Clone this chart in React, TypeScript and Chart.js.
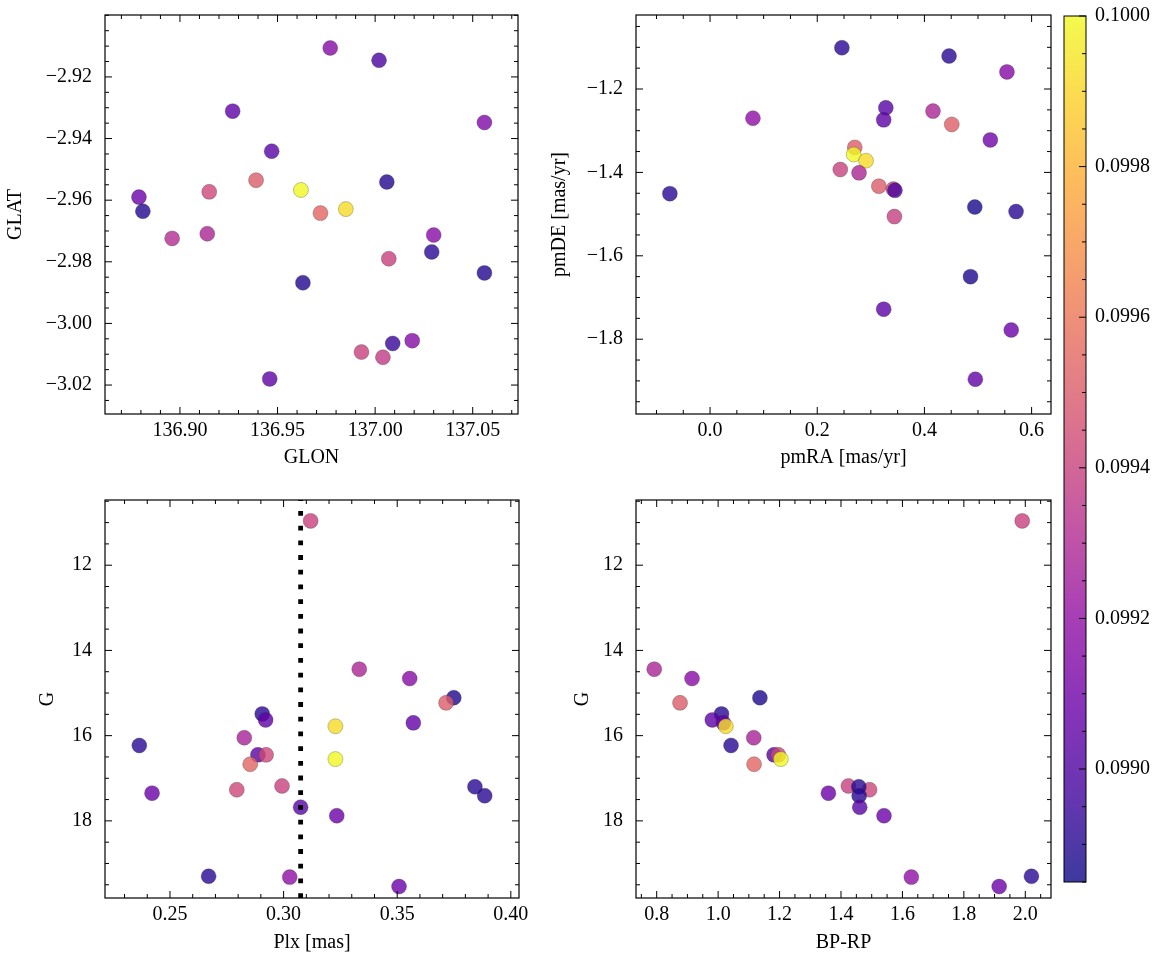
import React, { useEffect, useRef } from "react";
import { Chart, registerables } from "chart.js";

Chart.register(...registerables);

const FONT_FAMILY = '"Liberation Serif", "Times New Roman", serif';
const FONT_SIZE = 20;
Chart.defaults.color = "#000";
Chart.defaults.font.family = FONT_FAMILY;

// ---------------- data ----------------
// Panel 1: sky positions
const glon = [136.977, 137.002, 136.927, 137.056, 136.947, 136.939, 137.006, 136.915, 136.962, 136.879, 136.881, 136.972, 136.985, 136.896, 136.914, 137.03, 137.029, 137.007, 137.056, 136.963, 137.019, 137.009, 136.993, 137.004, 136.946];
const glat = [-2.9106, -2.9146, -2.9311, -2.9348, -2.9441, -2.9535, -2.9541, -2.9573, -2.9567, -2.959, -2.9636, -2.9642, -2.9629, -2.9724, -2.9709, -2.9713, -2.9768, -2.979, -2.9836, -2.9868, -3.0056, -3.0065, -3.0093, -3.011, -3.018];
const probSky = [0.099161, 0.098988, 0.099046, 0.099138, 0.099023, 0.099506, 0.098896, 0.099425, 0.1, 0.09908, 0.098896, 0.09954, 0.09992, 0.09931, 0.099287, 0.099172, 0.098908, 0.099402, 0.098896, 0.098896, 0.099161, 0.098942, 0.099402, 0.099368, 0.099046];

// Panel 2: proper motions
const pmra = [0.246, 0.446, 0.554, 0.328, 0.08, 0.324, 0.416, 0.451, 0.523, 0.27, 0.268, 0.291, 0.243, 0.278, 0.315, 0.342, 0.345, -0.075, 0.494, 0.571, 0.344, 0.486, 0.324, 0.562, 0.495];
const pmde = [-1.101, -1.121, -1.159, -1.245, -1.27, -1.274, -1.253, -1.285, -1.322, -1.34, -1.357, -1.372, -1.393, -1.401, -1.433, -1.44, -1.443, -1.451, -1.483, -1.494, -1.506, -1.65, -1.728, -1.778, -1.896];
const probPm = [0.098908, 0.098908, 0.099161, 0.099023, 0.099195, 0.099046, 0.099287, 0.099517, 0.099103, 0.099506, 0.1, 0.09992, 0.099402, 0.099287, 0.099506, 0.099425, 0.098988, 0.098908, 0.098873, 0.098908, 0.099391, 0.098885, 0.099046, 0.09908, 0.099057];

// Panels 3 & 4: photometry / parallax (same stars)
const gmag = [10.96, 14.44, 14.66, 15.11, 15.23, 15.49, 15.63, 15.7, 15.78, 16.23, 16.05, 16.45, 16.45, 16.67, 16.55, 17.35, 17.27, 17.18, 17.2, 17.41, 17.68, 17.88, 19.3, 19.32, 19.54];
const plx = [0.3119, 0.3333, 0.3555, 0.3749, 0.3715, 0.2906, 0.2921, 0.3571, 0.3228, 0.2365, 0.2827, 0.2887, 0.2923, 0.2853, 0.3228, 0.2421, 0.2794, 0.2993, 0.3842, 0.3885, 0.3075, 0.3234, 0.267, 0.3027, 0.3508];
const bprp = [1.99, 0.792, 0.915, 1.136, 0.876, 1.011, 0.981, 1.017, 1.025, 1.042, 1.116, 1.182, 1.196, 1.117, 1.204, 1.359, 1.493, 1.424, 1.458, 1.459, 1.461, 1.54, 2.02, 1.629, 1.915];
const probCmd = [0.099402, 0.099287, 0.099172, 0.098885, 0.099506, 0.098908, 0.099046, 0.099057, 0.09992, 0.098908, 0.099276, 0.099023, 0.099425, 0.09954, 0.1, 0.09908, 0.099425, 0.099402, 0.098908, 0.098908, 0.099023, 0.09908, 0.098908, 0.099195, 0.09908];

const plxLine = 0.3075;

// tick labels
const glonTicks = [136.9, 136.95, 137.0, 137.05];
const glatTicks = [-3.02, -3.0, -2.98, -2.96, -2.94, -2.92];
const pmraTicks = [0.0, 0.2, 0.4, 0.6];
const pmdeTicks = [-1.8, -1.6, -1.4, -1.2];
const plxTicks = [0.25, 0.3, 0.35, 0.4];
const gTicks = [12, 14, 16, 18];
const bprpTicks = [0.8, 1.0, 1.2, 1.4, 1.6, 1.8, 2.0];
const cbarTicks = [0.099, 0.0992, 0.0994, 0.0996, 0.0998, 0.1];

const VMIN = 0.09885;
const VMAX = 0.1;

// ---------------- helpers ----------------
const PLASMA = [
  [13, 8, 135], [65, 4, 157], [106, 0, 168], [143, 13, 164], [177, 42, 144],
  [204, 71, 120], [225, 100, 98], [242, 132, 75], [252, 166, 54], [252, 206, 37], [240, 249, 33],
];
function plasmaRGB(t: number) {
  const c = Math.max(0, Math.min(1, t));
  const s = c * 10;
  const i = Math.min(9, Math.floor(s));
  const f = s - i;
  const a = PLASMA[i], b = PLASMA[i + 1];
  return a.map((v, k) => Math.round(v + (b[k] - v) * f));
}
function colorOf(v: number, alpha = 0.8) {
  const [r, g, b] = plasmaRGB((v - VMIN) / (VMAX - VMIN));
  return `rgba(${r},${g},${b},${alpha})`;
}
function fmt(v: number, d: number) {
  const s = Math.abs(v) < 1e-12 ? (0).toFixed(d) : v.toFixed(d);
  return s.replace("-", "\u2212");
}
function minorVals(min: number, max: number, step: number) {
  const out: number[] = [];
  const k0 = Math.ceil(min / step - 1e-6);
  for (let k = k0; k * step <= max + step * 1e-6; k++) out.push(k * step);
  return out;
}
const font = () => ({ family: FONT_FAMILY, size: FONT_SIZE });

type Spec = {
  left: number; top: number; w: number; h: number;
  padTop: number; padRight: number; yW: number; xH: number;
  xs: number[]; ys: number[]; cs: number[];
  xMin: number; xMax: number; yMin: number; yMax: number; reverse?: boolean;
  xTicks: number[]; yTicks: number[]; xDec: number; yDec: number;
  xMinor: number; yMinor: number;
  xTitle: string; yTitle: string; yTitlePad: number;
  vline?: number;
};

function framePlugin(s: Spec) {
  return {
    id: "frameTicks",
    afterDraw(chart: any) {
      const { ctx, chartArea } = chart;
      const { left, right, top, bottom } = chartArea;
      const xsc = chart.scales.x, ysc = chart.scales.y;
      ctx.save();
      ctx.strokeStyle = "#000";
      ctx.lineWidth = 1;
      const seg = (x1: number, y1: number, x2: number, y2: number) => {
        ctx.beginPath(); ctx.moveTo(x1, y1); ctx.lineTo(x2, y2); ctx.stroke();
      };
      const xMarks = (vals: number[], len: number) => {
        for (const v of vals) {
          const p = xsc.getPixelForValue(v);
          if (p < left - 0.5 || p > right + 0.5) continue;
          seg(p, bottom, p, bottom - len); seg(p, top, p, top + len);
        }
      };
      const yMarks = (vals: number[], len: number) => {
        for (const v of vals) {
          const p = ysc.getPixelForValue(v);
          if (p < top - 0.5 || p > bottom + 0.5) continue;
          seg(left, p, left + len, p); seg(right, p, right - len, p);
        }
      };
      const notMajor = (arr: number[], majors: number[], step: number) =>
        arr.filter((v) => !majors.some((m) => Math.abs(m - v) < step * 1e-3));
      xMarks(s.xTicks, 7);
      yMarks(s.yTicks, 7);
      xMarks(notMajor(minorVals(s.xMin, s.xMax, s.xMinor), s.xTicks, s.xMinor), 4);
      yMarks(notMajor(minorVals(s.yMin, s.yMax, s.yMinor), s.yTicks, s.yMinor), 4);
      ctx.lineWidth = 1.2;
      ctx.strokeRect(left, top, right - left, bottom - top);
      ctx.restore();
    },
  };
}

function zeroPad(sc: any) {
  sc.paddingTop = 0; sc.paddingBottom = 0; sc.paddingLeft = 0; sc.paddingRight = 0;
}

function buildConfig(s: Spec): any {
  const datasets: any[] = [];
  if (s.vline !== undefined) {
    datasets.push({
      type: "line",
      data: [{ x: s.vline, y: s.yMax }, { x: s.vline, y: s.yMin }],
      borderColor: "#000",
      borderWidth: 4.8,
      borderDash: [4.8, 9.9],
      borderCapStyle: "butt",
      pointRadius: 0,
      fill: false,
      order: 0,
    });
  }
  datasets.push({
    type: "scatter",
    data: s.xs.map((x, i) => ({ x, y: s.ys[i] })),
    backgroundColor: s.cs.map((v) => colorOf(v)),
    borderColor: "rgba(40,40,40,0.55)",
    borderWidth: 0.5,
    pointRadius: 7.5,
    pointHoverRadius: 7.5,
    order: 1,
  });
  return {
    type: "scatter",
    data: { datasets },
    options: {
      responsive: false,
      animation: false,
      events: [],
      layout: { padding: { left: 0, top: s.padTop, right: s.padRight, bottom: 0 } },
      plugins: { legend: { display: false }, tooltip: { enabled: false } },
      scales: {
        x: {
          type: "linear",
          min: s.xMin,
          max: s.xMax,
          afterBuildTicks: (sc: any) => { sc.ticks = s.xTicks.map((v) => ({ value: v })); },
          afterFit: (sc: any) => { sc.height = s.xH; zeroPad(sc); },
          grid: { display: false, drawTicks: false },
          border: { display: false },
          ticks: {
            autoSkip: false, maxRotation: 0, minRotation: 0, padding: 5, color: "#000", font: font(),
            callback: (v: any) => fmt(Number(v), s.xDec),
          },
          title: { display: true, text: s.xTitle, color: "#000", font: font(), padding: { top: 0, bottom: 0 } },
        },
        y: {
          type: "linear",
          min: s.yMin,
          max: s.yMax,
          reverse: !!s.reverse,
          afterBuildTicks: (sc: any) => { sc.ticks = s.yTicks.map((v) => ({ value: v })); },
          afterFit: (sc: any) => { sc.width = s.yW; zeroPad(sc); },
          grid: { display: false, drawTicks: false },
          border: { display: false },
          ticks: {
            autoSkip: false, padding: 13, color: "#000", font: font(),
            callback: (v: any) => fmt(Number(v), s.yDec),
          },
          title: { display: true, text: s.yTitle, color: "#000", font: font(), padding: { top: s.yTitlePad, bottom: 0 } },
        },
      },
    },
    plugins: [framePlugin(s)],
  };
}

const G_MIN = 10.47;
const G_MAX = 19.81;

const specs: Spec[] = [
  {
    left: 0, top: 0, w: 540, h: 470, padTop: 15, padRight: 22, yW: 105, xH: 56,
    xs: glon, ys: glat, cs: probSky,
    xMin: 136.8616, xMax: 137.0732, yMin: -3.0294, yMax: -2.8999,
    xTicks: glonTicks, yTicks: glatTicks, xDec: 2, yDec: 2, xMinor: 0.01, yMinor: 0.005,
    xTitle: "GLON", yTitle: "GLAT", yTitlePad: 4,
  },
  {
    left: 530, top: 0, w: 530, h: 470, padTop: 15, padRight: 9, yW: 106, xH: 56,
    xs: pmra, ys: pmde, cs: probPm,
    xMin: -0.1382, xMax: 0.6362, yMin: -1.9794, yMax: -1.0225,
    xTicks: pmraTicks, yTicks: pmdeTicks, xDec: 1, yDec: 1, xMinor: 0.05, yMinor: 0.05,
    xTitle: "pmRA [mas/yr]", yTitle: "pmDE [mas/yr]", yTitlePad: 18,
  },
  {
    left: 0, top: 485, w: 540, h: 470, padTop: 15, padRight: 21, yW: 105, xH: 57,
    xs: plx, ys: gmag, cs: probCmd,
    xMin: 0.2214, xMax: 0.4036, yMin: G_MIN, yMax: G_MAX, reverse: true,
    xTicks: plxTicks, yTicks: gTicks, xDec: 2, yDec: 0, xMinor: 0.01, yMinor: 0.5,
    xTitle: "Plx [mas]", yTitle: "G", yTitlePad: 36, vline: plxLine,
  },
  {
    left: 530, top: 485, w: 530, h: 470, padTop: 15, padRight: 9, yW: 106, xH: 57,
    xs: bprp, ys: gmag, cs: probCmd,
    xMin: 0.7326, xMax: 2.0837, yMin: G_MIN, yMax: G_MAX, reverse: true,
    xTicks: bprpTicks, yTicks: gTicks, xDec: 1, yDec: 0, xMinor: 0.05, yMinor: 0.5,
    xTitle: "BP-RP", yTitle: "G", yTitlePad: 41,
  },
];

function Panel({ spec }: { spec: Spec }) {
  const ref = useRef<HTMLCanvasElement | null>(null);
  useEffect(() => {
    if (!ref.current) return;
    const chart = new Chart(ref.current, buildConfig(spec));
    return () => chart.destroy();
  }, [spec]);
  return (
    <canvas
      ref={ref}
      width={spec.w}
      height={spec.h}
      style={{ position: "absolute", left: spec.left, top: spec.top, width: spec.w, height: spec.h }}
    />
  );
}

const cbarPlugin = {
  id: "cbar",
  afterDraw(chart: any) {
    const { ctx, chartArea } = chart;
    const { left, right, top, bottom } = chartArea;
    const ysc = chart.scales.y;
    ctx.save();
    const grad = ctx.createLinearGradient(0, bottom, 0, top);
    for (let i = 0; i <= 40; i++) {
      const t = i / 40;
      const [r, g, b] = plasmaRGB(t);
      grad.addColorStop(t, `rgba(${r},${g},${b},0.8)`);
    }
    ctx.fillStyle = grad;
    ctx.fillRect(left, top, right - left, bottom - top);
    ctx.strokeStyle = "#000";
    ctx.lineWidth = 1;
    const seg = (x1: number, y1: number, x2: number, y2: number) => {
      ctx.beginPath(); ctx.moveTo(x1, y1); ctx.lineTo(x2, y2); ctx.stroke();
    };
    for (const v of cbarTicks) {
      const p = ysc.getPixelForValue(v);
      seg(right, p, right - 7, p);
    }
    for (const v of minorVals(VMIN, VMAX, 0.00005)) {
      if (cbarTicks.some((m) => Math.abs(m - v) < 1e-8)) continue;
      const p = ysc.getPixelForValue(v);
      if (p < top || p > bottom) continue;
      seg(right, p, right - 4, p);
    }
    ctx.lineWidth = 1;
    ctx.strokeRect(left, top, right - left, bottom - top);
    ctx.restore();
  },
};

function ColorBar() {
  const ref = useRef<HTMLCanvasElement | null>(null);
  useEffect(() => {
    if (!ref.current) return;
    const chart = new Chart(ref.current, {
      type: "scatter",
      data: { datasets: [] },
      options: {
        responsive: false,
        animation: false,
        events: [],
        layout: { padding: { left: 4, top: 16, right: 0, bottom: 18 } },
        plugins: { legend: { display: false }, tooltip: { enabled: false } },
        scales: {
          x: { display: false, min: 0, max: 1 },
          y: {
            type: "linear",
            position: "right",
            min: VMIN,
            max: VMAX,
            afterBuildTicks: (sc: any) => { sc.ticks = cbarTicks.map((v) => ({ value: v })); },
            afterFit: (sc: any) => { sc.width = 80; zeroPad(sc); },
            grid: { display: false, drawTicks: false },
            border: { display: false },
            ticks: { autoSkip: false, padding: 9, color: "#000", font: font(), callback: (v: any) => fmt(Number(v), 4) },
          },
        },
      } as any,
      plugins: [cbarPlugin],
    } as any);
    return () => chart.destroy();
  }, []);
  return (
    <canvas
      ref={ref}
      width={106}
      height={900}
      style={{ position: "absolute", left: 1060, top: 0, width: 106, height: 900 }}
    />
  );
}

export default function App() {
  return (
    <div style={{ position: "absolute", left: 0, top: 0, width: 1166, height: 965, background: "#fff" }}>
      {specs.map((s, i) => (
        <Panel key={i} spec={s} />
      ))}
      <ColorBar />
    </div>
  );
}
